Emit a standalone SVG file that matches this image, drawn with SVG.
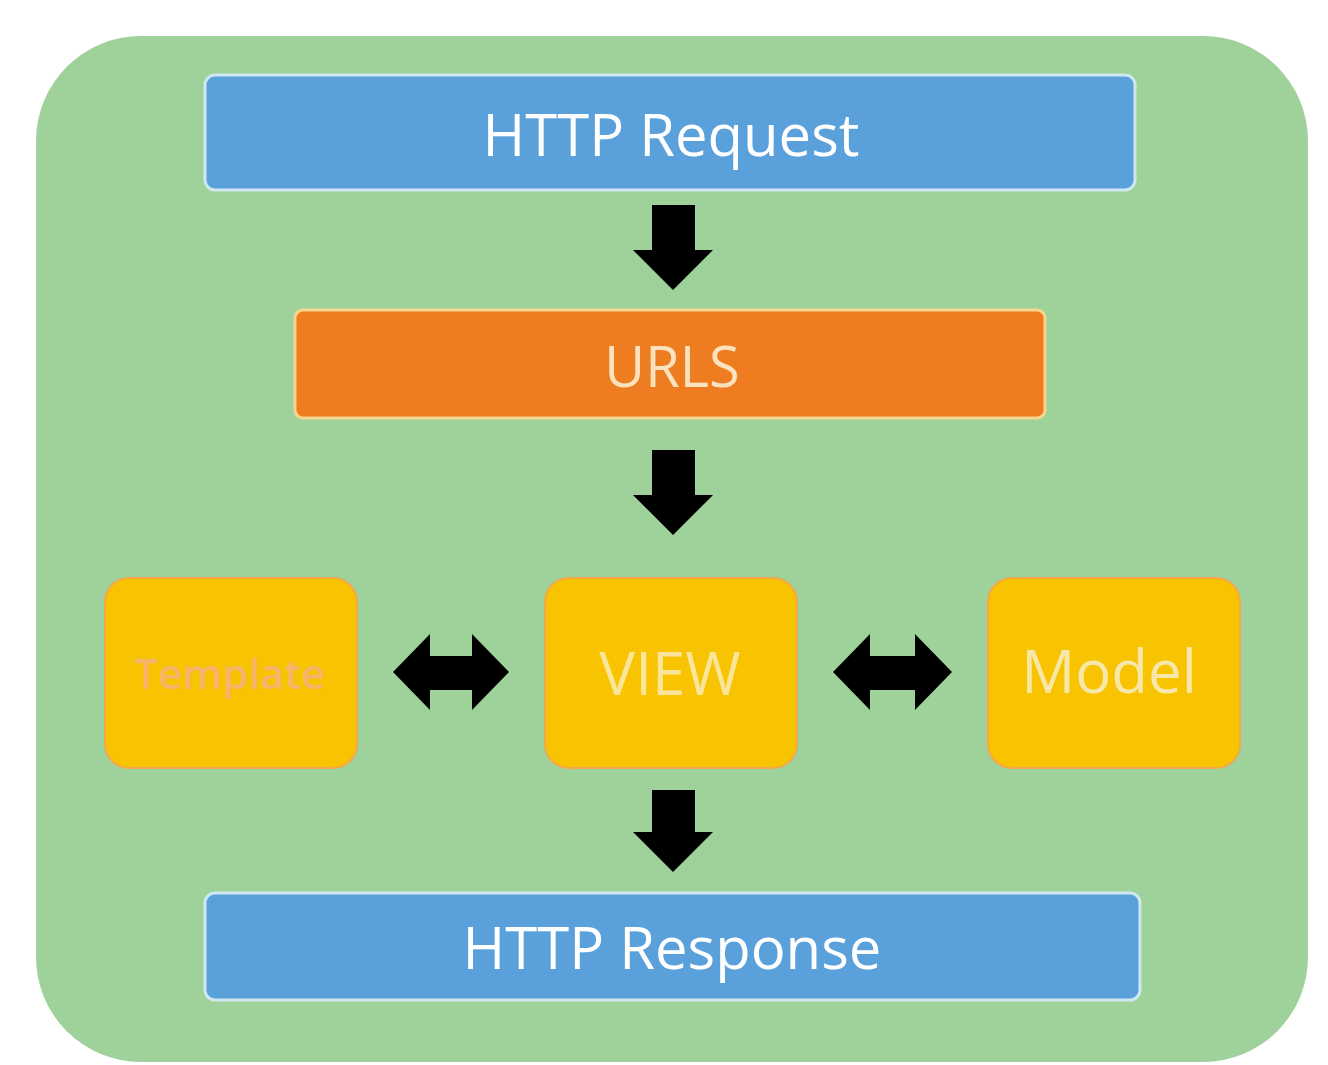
<svg xmlns="http://www.w3.org/2000/svg" width="1328" height="1065" viewBox="0 0 1328 1065">
<defs>
<style>
.bar{fill:#5aa0da;stroke:#cfe8f0;stroke-width:3}
.box{fill:#f8c300;stroke:#f4a84a;stroke-width:2}
.lbl{font-family:"Open Sans","Noto Sans","Liberation Sans",sans-serif;text-anchor:middle;dominant-baseline:central}
.arr{fill:#000}
</style>
</defs>
<rect x="0" y="0" width="1328" height="1065" fill="#ffffff"/>
<rect id="frame" x="36" y="36" width="1272" height="1026" rx="105" ry="105" fill="#9ed29a"/>
<g id="http-request">
<rect class="bar" x="205" y="75" width="930" height="115" rx="10"/>
<text class="lbl" x="671" y="133" font-size="58" fill="#ffffff">HTTP Request</text>
</g>
<g id="urls">
<rect x="295" y="310" width="750" height="108" rx="8" fill="#ee7d22" stroke="#f6d58c" stroke-width="3"/>
<text class="lbl" x="672" y="365" font-size="56" fill="#fbe1bc">URLS</text>
</g>
<g id="template">
<rect class="box" x="105" y="578" width="252" height="190" rx="24"/>
<text class="lbl" x="230" y="672" font-size="42" font-weight="600" fill="#f8b46a">Template</text>
</g>
<g id="view">
<rect class="box" x="545" y="578" width="252" height="190" rx="24"/>
<text class="lbl" x="670" y="672" font-size="60" fill="#fbe59a">VIEW</text>
</g>
<g id="model">
<rect class="box" x="988" y="578" width="252" height="190" rx="24"/>
<text class="lbl" x="1109" y="670" font-size="60" fill="#f7e7a8">Model</text>
</g>
<g id="http-response">
<rect class="bar" x="205" y="893" width="935" height="107" rx="10"/>
<text class="lbl" x="672" y="946" font-size="58" fill="#ffffff">HTTP Response</text>
</g>
<g id="connectors">
<polygon class="arr" points="652,205 695,205 695,250 713,250 673,290 633,250 652,250"/>
<polygon class="arr" points="652,450 695,450 695,495 713,495 673,535 633,495 652,495"/>
<polygon class="arr" points="652,790 695,790 695,832 713,832 673,872 633,832 652,832"/>
<polygon class="arr" points="393,672 430,634 430,656 472,656 472,634 509,672 472,710 472,690 430,690 430,710"/>
<polygon class="arr" points="833,672 870,634 870,656 915,656 915,634 952,672 915,710 915,690 870,690 870,710"/>
</g>
</svg>
